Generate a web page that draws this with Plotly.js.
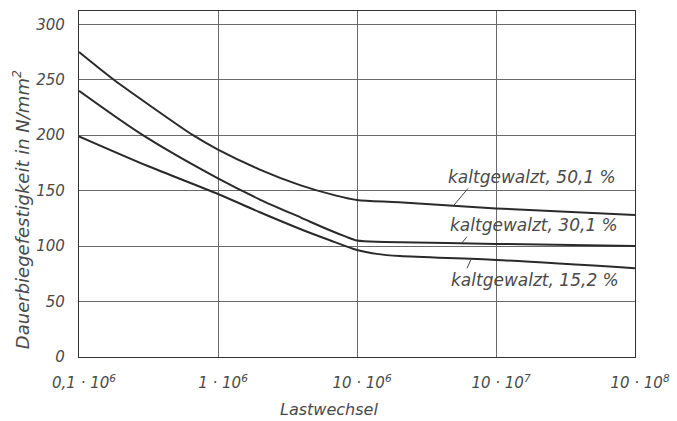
<!DOCTYPE html>
<html>
<head>
<meta charset="utf-8">
<script src="https://cdn.plot.ly/plotly-3.0.1.min.js"></script>
<style>html,body{margin:0;padding:0;background:#fff;}#chart{width:677px;height:421px;}</style>
</head>
<body>
<div id="chart"></div>
<script>
// Lastwechsel (load cycles) and Dauerbiegefestigkeit (N/mm²)
const lastwechsel50 = [1e5, 1.78e5, 3.39e5, 6.61e5, 1e6, 2e6, 3.89e6, 7.08e6, 1e7, 2e7, 1e8, 1e9];
const festigkeit50  = [275, 250, 225, 200, 187, 169, 155, 145.5, 141.5, 139.5, 134, 128];

const lastwechsel30 = [1e5, 2.88e5, 1e6, 2e6, 3.98e6, 6.31e6, 8.32e6, 1e7, 1.58e7, 1e8, 1e9];
const festigkeit30  = [240, 200, 161, 142, 125.5, 114.5, 108.5, 105, 103.8, 102, 100];

const lastwechsel15 = [1e5, 3.16e5, 1e6, 2e6, 3.98e6, 6.31e6, 1e7, 1.38e7, 2.04e7, 1e8, 1e9];
const festigkeit15  = [199, 172, 147, 130.5, 115, 105.5, 96.5, 93, 91, 87.5, 80];

const seriesNames = ['kaltgewalzt, 50,1 %', 'kaltgewalzt, 30,1 %', 'kaltgewalzt, 15,2 %'];

const xTickVals = [1e5, 1e6, 1e7, 1e8, 1e9];
const xTickText = ['0,1 · 10<sup>6</sup>', '1 · 10<sup>6</sup>', '10 · 10<sup>6</sup>', '10 · 10<sup>7</sup>', '10 · 10<sup>8</sup>'];
const yTickVals = [0, 50, 100, 150, 200, 250, 300];

const FONT = 'DejaVu Sans';
const TXT = '#4a4a4a';

const mk = (x, y, name) => ({
  x: x, y: y, name: name, type: 'scatter', mode: 'lines',
  line: {color: '#2a2a2a', width: 2, shape: 'spline', smoothing: 0.8},
  hoverinfo: 'skip'
});

const data = [
  mk(lastwechsel50, festigkeit50, seriesNames[0]),
  mk(lastwechsel30, festigkeit30, seriesNames[1]),
  mk(lastwechsel15, festigkeit15, seriesNames[2])
];

const lab = (x, y, text) => ({
  xref: 'x', yref: 'y', x: x, y: y, text: text, showarrow: false,
  xanchor: 'center', yanchor: 'middle',
  font: {family: FONT, size: 17, color: TXT, style: 'italic'}
});

const layout = {
  width: 677, height: 421,
  margin: {l: 79, r: 42, t: 11, b: 64, pad: 0},
  paper_bgcolor: '#ffffff', plot_bgcolor: '#ffffff',
  showlegend: false,
  xaxis: {
    type: 'log', range: [5, 9],
    tickvals: xTickVals, ticktext: xTickText,
    ticks: '', ticklabelstandoff: 12, ticklabelshift: 5,
    showgrid: true, gridcolor: '#6a6a6a', gridwidth: 1,
    showline: true, linecolor: '#333', linewidth: 1.2, mirror: true,
    zeroline: false,
    tickfont: {family: FONT, size: 15, color: TXT, style: 'italic'}
  },
  yaxis: {
    range: [0, 312],
    tickvals: yTickVals,
    ticks: '', ticklabelstandoff: 10,
    showgrid: true, gridcolor: '#6a6a6a', gridwidth: 1,
    showline: true, linecolor: '#333', linewidth: 1.2, mirror: true,
    zeroline: false,
    tickfont: {family: FONT, size: 15, color: TXT, style: 'italic'}
  },
  annotations: [
    lab(8.26, 162, seriesNames[0]),
    lab(8.27, 119, seriesNames[1]),
    lab(8.28, 69.5, seriesNames[2]),
    {xref: 'paper', yref: 'paper', x: 0.4496, y: -0.153, text: 'Lastwechsel', showarrow: false,
     xanchor: 'center', yanchor: 'middle', font: {family: FONT, size: 16, color: TXT, style: 'italic'}},
    {xref: 'paper', yref: 'paper', x: -0.104, y: 0.425, text: 'Dauerbiegefestigkeit in N/mm<sup>2</sup>', showarrow: false,
     textangle: -90, xanchor: 'center', yanchor: 'middle', font: {family: FONT, size: 18, color: TXT, style: 'italic'}}
  ],
  shapes: [
    {type: 'line', xref: 'x domain', yref: 'y', x0: (468-79)/556, y0: 152, x1: (454-79)/556, y1: 137, line: {color: '#444', width: 1}},
    {type: 'line', xref: 'x domain', yref: 'y', x0: (467-79)/556, y0: 108.5, x1: (462-79)/556, y1: 103, line: {color: '#444', width: 1}},
    {type: 'line', xref: 'x domain', yref: 'y', x0: (471-79)/556, y0: 88, x1: (467-79)/556, y1: 80, line: {color: '#444', width: 1}}
  ]
};

Plotly.newPlot('chart', data, layout, {staticPlot: true, displayModeBar: false});
</script>
</body>
</html>
